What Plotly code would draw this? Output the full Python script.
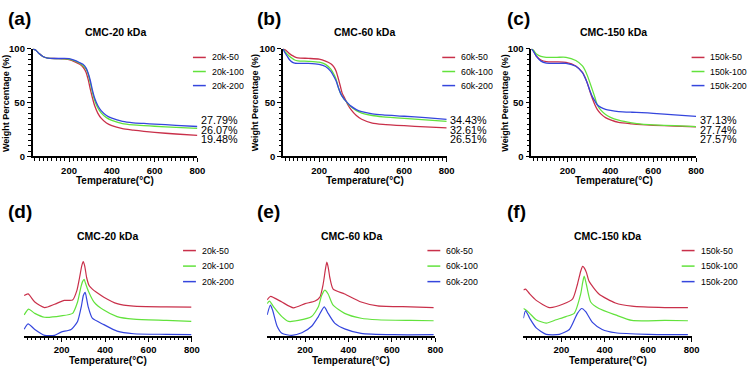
import plotly.graph_objects as go

W, H = 756, 373

def px_x(x):
    return x / W

def px_y(y):
    return 1 - y / H

RED, GREEN, BLUE = "#C9304A", "#62E23C", "#3546DD"
COLORS = [RED, GREEN, BLUE]
FONT = "Arial, Liberation Sans, Helvetica, sans-serif"

# ---------------- TGA data (weight %) ----------------
tga20_T = [30, 45, 60, 80, 100, 150, 200, 230, 250, 265, 280, 290, 300, 310, 320, 335, 350, 375, 400, 450, 500, 550, 600, 700, 800]
tga20_50 = [100, 98.5, 95.5, 92.5, 91.2, 90.8, 89.8, 87.5, 85.5, 83, 78, 71, 62, 54, 47, 40, 35.5, 31, 28.5, 25.8, 24.5, 23.3, 22.3, 20.8, 19.48]
tga20_100 = [100, 98.5, 95.5, 92.5, 91.2, 90.8, 90.3, 88.5, 86.5, 84.5, 81, 76, 68, 59, 52, 45, 40.5, 36, 33.5, 30.5, 29.3, 28.6, 28.0, 27.0, 26.07]
tga20_200 = [100, 98.5, 95.5, 92.5, 91.2, 90.9, 90.8, 89, 87, 85.5, 82, 77, 70, 61, 54, 47, 42.5, 38, 35.5, 32.5, 31.2, 30.6, 30.0, 28.9, 27.79]

tga60_T = [30, 40, 50, 60, 70, 85, 100, 150, 200, 230, 255, 270, 280, 292, 300, 308, 315, 323, 335, 350, 375, 400, 450, 500, 600, 700, 800]
tga60_50 = [100, 99, 97.5, 95.5, 94, 92.5, 91.5, 91, 90.3, 88.5, 86, 83, 79, 71, 65, 59, 56, 53, 48, 43.5, 38, 34.5, 31, 29.8, 28.5, 27.5, 26.51]
tga60_100 = [100, 97, 95, 93, 91.5, 89.5, 88.7, 88.3, 87.5, 85.5, 81, 76, 71.5, 63, 59, 56, 54, 52, 49, 46, 42.5, 40.3, 38, 36.8, 35.3, 34, 32.61]
tga60_200 = [100, 96, 93, 90, 88, 86.5, 86.3, 86.3, 85.5, 83.5, 79, 74, 70, 63, 59, 56, 54, 52, 49.5, 46.7, 43.5, 41.5, 39.5, 38.5, 37.3, 36, 34.43]

tga150_T = [30, 40, 54, 75, 100, 150, 192, 238, 269, 280, 292, 303, 315, 327, 338, 355, 377, 400, 438, 500, 546, 600, 700, 800]
tga150_50 = [100, 98, 93, 89.5, 88, 87.8, 87.3, 84, 78, 74, 68, 61, 54, 48, 43.7, 39.5, 36, 34, 31.6, 30.3, 29.5, 28.9, 28.2, 27.57]
tga150_100 = [100, 98.5, 95, 92.8, 92, 92, 92, 89, 84, 80.5, 75, 69, 62, 55, 48, 43, 39, 36.3, 33.7, 31.2, 30, 29.3, 28.5, 27.74]
tga150_200 = [100, 97.5, 92.8, 88.5, 86.7, 86.4, 86.4, 83.7, 77.7, 73.5, 67.8, 61.5, 55.7, 51.5, 48, 45.5, 43.7, 42.7, 41.6, 41, 40.7, 40, 38.6, 37.13]

# ---------------- DTG data (arbitrary units, curves offset) ----------------
dtg20_50_T = [27, 45, 76, 121, 167, 212, 250, 270, 282, 292, 299, 306, 315, 326, 340, 360, 394, 455, 531, 683, 797]
dtg20_50 = [41.7, 43.3, 35, 29.3, 32.7, 36.7, 37, 47, 60, 72, 76.7, 72, 60, 52, 48.5, 45, 40, 33.3, 30.7, 30, 29.7]
dtg20_100_T = [27, 47, 76, 121, 197, 250, 273, 288, 296, 303, 310, 322, 349, 394, 455, 531, 683, 797]
dtg20_100 = [21.7, 27.7, 23.3, 19.3, 20.7, 23.3, 35, 50, 56, 58.3, 54, 46.7, 35, 26.7, 20, 17.3, 16, 15]
dtg20_200_T = [27, 45, 76, 121, 167, 197, 243, 273, 290, 300, 308, 315, 322, 341, 394, 455, 531, 683, 797]
dtg20_200 = [7, 12.5, 6.7, 0.7, 0.7, 4, 6.7, 15, 30, 42, 45, 38, 30, 18.3, 11.7, 5, 2.3, 1.7, 1.3]

dtg60_50_T = [25, 40, 57, 93, 146, 200, 246, 268, 283, 293, 300, 307, 314, 329, 382, 458, 534, 686, 792]
dtg60_50 = [37.3, 40.7, 39.3, 35, 29, 33.3, 36, 40, 53.3, 68, 76, 70, 60, 48.3, 43.3, 35, 31, 30, 29.3]
dtg60_100_T = [25, 36, 55, 93, 124, 169, 230, 261, 276, 291, 306, 329, 382, 458, 534, 686, 792]
dtg60_100 = [33.3, 36, 30, 20, 15, 16, 20, 30, 41.7, 47.3, 43.3, 31.7, 23.3, 18.3, 16.7, 16, 15.7]
dtg60_200_T = [25, 40, 50, 71, 93, 139, 185, 230, 261, 288, 306, 336, 382, 458, 610, 792]
dtg60_200 = [21.7, 31.7, 26.7, 10, 2.7, 0.7, 3.3, 10, 20, 30, 23.3, 13.3, 7.3, 2.7, 1.3, 1.3]

dtg150_50_T = [25, 35, 54, 84, 145, 206, 252, 274, 289, 298, 306, 316, 327, 373, 449, 525, 677, 783]
dtg150_50 = [47.3, 48.3, 43.3, 36.7, 29.3, 32.7, 38.3, 53.3, 66.7, 71.7, 70, 65, 56.7, 43.3, 34, 30.7, 29.3, 29.3]
dtg150_100_T = [25, 35, 54, 84, 130, 176, 221, 259, 289, 298, 305, 315, 335, 373, 449, 525, 677, 783]
dtg150_100 = [28.3, 27, 23.3, 16.7, 13.3, 16.7, 20, 23.3, 43.3, 55, 61.7, 53.3, 35, 28.3, 21.7, 16, 16, 15.7]
dtg150_200_T = [25, 35, 54, 84, 130, 191, 237, 274, 294, 312, 343, 388, 449, 600, 783]
dtg150_200 = [18.3, 26, 18.3, 8.3, 1.7, 1.7, 6.7, 23.3, 28.3, 25, 14, 6.7, 3.3, 1.7, 1.3]

titles = ["CMC-20 kDa", "CMC-60 kDa", "CMC-150 kDa"]
panel_labels = ["(a)", "(b)", "(c)", "(d)", "(e)", "(f)"]
names20 = ["20k-50", "20k-100", "20k-200"]
names60 = ["60k-50", "60k-100", "60k-200"]
names150 = ["150k-50", "150k-100", "150k-200"]
x_ticks = [200, 400, 600, 800]
y_ticks = [0, 50, 100]
x_title = "Temperature(°C)"
y_title = "Weight Percentage (%)"

tga_panels = [
    (names20, [(tga20_T, tga20_50), (tga20_T, tga20_100), (tga20_T, tga20_200)]),
    (names60, [(tga60_T, tga60_50), (tga60_T, tga60_100), (tga60_T, tga60_200)]),
    (names150, [(tga150_T, tga150_50), (tga150_T, tga150_100), (tga150_T, tga150_200)]),
]
dtg_panels = [
    (names20, [(dtg20_50_T, dtg20_50), (dtg20_100_T, dtg20_100), (dtg20_200_T, dtg20_200)]),
    (names60, [(dtg60_50_T, dtg60_50), (dtg60_100_T, dtg60_100), (dtg60_200_T, dtg60_200)]),
    (names150, [(dtg150_50_T, dtg150_50), (dtg150_100_T, dtg150_100), (dtg150_200_T, dtg150_200)]),
]

# layout geometry (pixels)
top_x = [(33, 199.5), (286, 451.5), (537, 703.5)]
bot_x = [(24, 194), (270, 440), (529, 699)]
top_y = (155, 44)
bot_y = (340, 250)
col_off = [0, 252, 504]

fig = go.Figure()
layout = dict(
    width=W, height=H, margin=dict(l=0, r=0, t=0, b=0),
    paper_bgcolor="white", plot_bgcolor="white", showlegend=False,
    font=dict(family=FONT, color="black"),
)
annotations = []
shapes = []

def axis_common():
    return dict(showgrid=False, zeroline=False, showline=True, linecolor="black",
                linewidth=1.6, ticks="outside", ticklen=4, tickwidth=1.4, tickcolor="black",
                tickfont=dict(family=FONT, size=9.5, color="black"))

def add_legend(names, x_line, ys):
    for i, nm in enumerate(names):
        shapes.append(dict(type="line", xref="paper", yref="paper",
                           x0=px_x(x_line), x1=px_x(x_line + 13), y0=px_y(ys[i]), y1=px_y(ys[i]),
                           line=dict(color=COLORS[i], width=1.5)))
        annotations.append(dict(xref="paper", yref="paper", x=px_x(x_line + 17), y=px_y(ys[i]),
                                text=nm, showarrow=False, xanchor="left", yanchor="middle",
                                font=dict(family=FONT, size=8.8, color="black")))

# ---- top row: TGA ----
for p, (names, series) in enumerate(tga_panels):
    k = p + 1
    xa = axis_common()
    xa.update(domain=[px_x(top_x[p][0]), px_x(top_x[p][1])], range=[30, 800], anchor=f"y{k}",
              tickvals=x_ticks, ticktext=[f"<b>{v}</b>" for v in x_ticks],
              minor=dict(ticks="outside", ticklen=2.5, tickwidth=1, tickcolor="black", dtick=20, tick0=0))
    ya = axis_common()
    ya.update(domain=[px_y(top_y[0]), px_y(top_y[1])], range=[0, 100], anchor=f"x{k}",
              tickvals=y_ticks, ticktext=[f"<b>{v}</b>" for v in y_ticks],
              minor=dict(ticks="outside", ticklen=2.5, tickwidth=1, tickcolor="black", dtick=5, tick0=0))
    layout[f"xaxis{k}"] = xa
    layout[f"yaxis{k}"] = ya
    for i, (T, V) in enumerate(series):
        fig.add_trace(go.Scatter(x=T, y=V, mode="lines", name=names[i], xaxis=f"x{k}", yaxis=f"y{k}",
                                 line=dict(color=COLORS[i], width=1.3, shape="spline", smoothing=0.6)))
    off = col_off[p]
    cx = (top_x[p][0] + top_x[p][1]) / 2
    annotations.append(dict(xref="paper", yref="paper", x=px_x(off + 6), y=px_y(13), text=f"<b>{panel_labels[p]}</b>",
                            showarrow=False, xanchor="left", yanchor="middle", font=dict(family=FONT, size=19, color="black")))
    annotations.append(dict(xref="paper", yref="paper", x=px_x(cx), y=px_y(27), text=f"<b>{titles[p]}</b>",
                            showarrow=False, xanchor="center", yanchor="middle", font=dict(family=FONT, size=10.5, color="black")))
    annotations.append(dict(xref="paper", yref="paper", x=px_x(cx), y=px_y(180), text=f"<b>{x_title}</b>",
                            showarrow=False, xanchor="center", yanchor="middle", font=dict(family=FONT, size=10, color="black")))
    annotations.append(dict(xref="paper", yref="paper", x=px_x(off + 6), y=px_y(100), text=f"<b>{y_title}</b>",
                            showarrow=False, xanchor="center", yanchor="middle", textangle=-90,
                            font=dict(family=FONT, size=9, color="black")))
    add_legend(names, off + 195, [53, 67.5, 82])
    # end-value labels, ordered from highest to lowest
    finals = sorted([V[-1] for (T, V) in series], reverse=True)
    for j, v in enumerate(finals):
        annotations.append(dict(xref="paper", yref="paper", x=px_x(top_x[p][1] + 2.5), y=px_y(117 + 10 * j),
                                text=f"{v:.2f}%", showarrow=False, xanchor="left", yanchor="middle",
                                height=9, borderpad=0,
                                font=dict(family=FONT, size=10.8, color="black")))

# ---- bottom row: DTG ----
for p, (names, series) in enumerate(dtg_panels):
    k = p + 4
    xa = axis_common()
    xa.update(domain=[px_x(bot_x[p][0]), px_x(bot_x[p][1])], range=[25, 800], anchor=f"y{k}",
              tickvals=x_ticks, ticktext=[f"<b>{v}</b>" for v in x_ticks],
              minor=dict(ticks="outside", ticklen=2.5, tickwidth=1, tickcolor="black", dtick=20, tick0=0))
    ya = dict(domain=[px_y(bot_y[0]), px_y(bot_y[1])], range=[0, 90], anchor=f"x{k}", visible=False)
    layout[f"xaxis{k}"] = xa
    layout[f"yaxis{k}"] = ya
    for i, (T, V) in enumerate(series):
        fig.add_trace(go.Scatter(x=T, y=V, mode="lines", name=names[i], xaxis=f"x{k}", yaxis=f"y{k}",
                                 line=dict(color=COLORS[i], width=1.2, shape="spline", smoothing=0.6)))
    off = col_off[p]
    cx = (bot_x[p][0] + bot_x[p][1]) / 2
    annotations.append(dict(xref="paper", yref="paper", x=px_x(off + 6), y=px_y(212), text=f"<b>{panel_labels[p + 3]}</b>",
                            showarrow=False, xanchor="left", yanchor="middle", font=dict(family=FONT, size=19, color="black")))
    annotations.append(dict(xref="paper", yref="paper", x=px_x(cx), y=px_y(237), text=f"<b>{titles[p]}</b>",
                            showarrow=False, xanchor="center", yanchor="middle", font=dict(family=FONT, size=10.5, color="black")))
    annotations.append(dict(xref="paper", yref="paper", x=px_x(cx), y=px_y(365.5), text=f"<b>{x_title}</b>",
                            showarrow=False, xanchor="center", yanchor="middle", font=dict(family=FONT, size=10, color="black")))
    add_legend(names, off + (185 if p != 1 else 180), [252, 268, 284])

layout["annotations"] = annotations
layout["shapes"] = shapes
fig.update_layout(**layout)
fig.write_html(
    "out.html",
    config={"displayModeBar": False},
    post_script="document.body.style.margin='0';document.body.style.padding='0';document.body.style.overflow='hidden';",
)
